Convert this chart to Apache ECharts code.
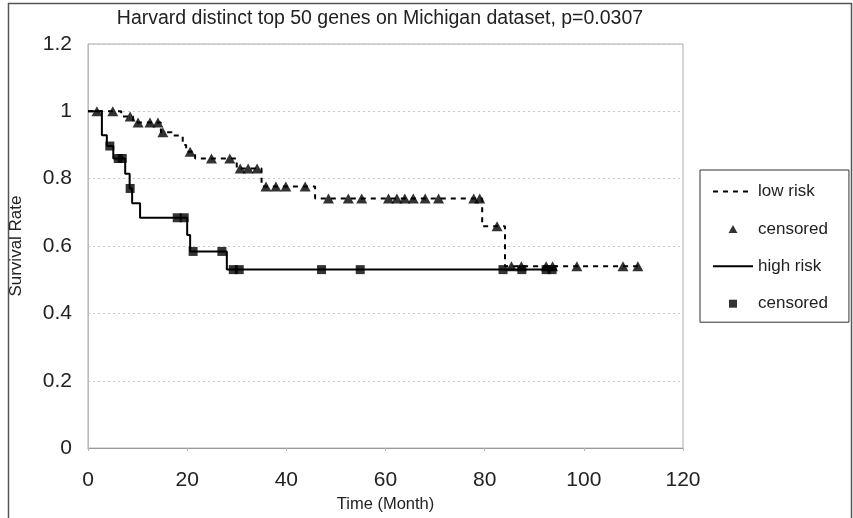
<!DOCTYPE html>
<html>
<head>
<meta charset="utf-8">
<script src="https://cdn.jsdelivr.net/npm/echarts@6/dist/echarts.min.js"></script>
<style>html,body{margin:0;padding:0;background:#fff;}#chart{width:853px;height:518px;}</style>
</head>
<body>
<div id="chart"></div>
<script>
// ---- data ----
const titleText = 'Harvard distinct top 50 genes on Michigan dataset, p=0.0307';
const xTicks = [0, 20, 40, 60, 80, 100, 120];
const yTicks = [0, 0.2, 0.4, 0.6, 0.8, 1, 1.2];

// Low risk Kaplan-Meier step curve (time of change, survival from then on)
const lowTimes = [0, 6.7, 9.1, 14.7, 16.9, 19.1, 19.8, 21.6, 30.0, 35.0, 45.8, 79.5, 84.1, 110.9];
const lowSurv  = [1, 0.985, 0.967, 0.938, 0.928, 0.900, 0.880, 0.860, 0.830, 0.777, 0.741, 0.659, 0.540, 0.540];
// Low risk censored times and survival at those times
const lowCensTimes = [1.8, 5.0, 8.5, 10.1, 12.5, 14.1, 15.1, 20.6, 24.9, 28.6, 30.7, 32.3, 34.1, 35.9, 37.9, 39.9, 43.8,
  48.5, 52.5, 55.2, 60.6, 62.3, 63.9, 65.6, 68.0, 70.7, 77.8, 79.0, 82.5, 85.4, 87.4, 92.4, 93.7, 98.6, 107.9, 110.9];
const lowCensSurv  = [1, 1, 0.985, 0.967, 0.967, 0.967, 0.938, 0.880, 0.860, 0.860, 0.830, 0.830, 0.830, 0.777, 0.777, 0.777, 0.777,
  0.741, 0.741, 0.741, 0.741, 0.741, 0.741, 0.741, 0.741, 0.741, 0.741, 0.741, 0.659, 0.540, 0.540, 0.540, 0.540, 0.540, 0.540, 0.540];

// High risk Kaplan-Meier step curve
const highTimes = [0, 2.8, 3.8, 5.1, 7.5, 8.4, 8.9, 10.5, 20.0, 20.6, 28.0, 94.5];
const highSurv  = [1, 0.929, 0.897, 0.860, 0.815, 0.771, 0.727, 0.684, 0.633, 0.584, 0.530, 0.530];
const highCensTimes = [4.4, 6.1, 6.9, 8.5, 18.0, 19.4, 21.2, 27.0, 29.3, 30.5, 47.1, 54.9, 83.7, 87.5, 92.4, 93.6];
const highCensSurv  = [0.897, 0.860, 0.860, 0.771, 0.684, 0.684, 0.584, 0.584, 0.530, 0.530, 0.530, 0.530, 0.530, 0.530, 0.530, 0.530];

const seriesNames = ['low risk', 'censored', 'high risk', 'censored '];
// ---------------------------------------

const zip = (a, b) => a.map((v, i) => [v, b[i]]);
const FONT = 'Liberation Sans, Arial, sans-serif';
const INK = '#000';
const TRI_ICON = 'path://M5,0L10,9L0,9Z';
const SQ_ICON = 'path://M0,0H10V10H0Z';

const chart = echarts.init(document.getElementById('chart'), null, {renderer: 'canvas'});
chart.setOption({
  animation: false,
  backgroundColor: '#fff',
  title: {
    text: titleText,
    left: 380, top: 9, textAlign: 'center', padding: 0,
    textStyle: {fontFamily: FONT, fontSize: 19.5, fontWeight: 'normal', color: '#222'}
  },
  graphic: [{
    type: 'rect', silent: true, z: -1,
    shape: {x: 8.5, y: 3.5, width: 843, height: 530},
    style: {fill: 'none', stroke: '#555', lineWidth: 1.5}
  }],
  grid: {
    left: 88, right: 170, top: 44, bottom: 67,
    show: true, borderColor: '#a8a8a8', borderWidth: 1, backgroundColor: 'transparent'
  },
  legend: {
    orient: 'vertical', left: 700, top: 170,
    padding: [13, 21, 10, 12],
    itemWidth: 40, itemHeight: 8, itemGap: 20.4,
    symbolKeepAspect: true,
    borderColor: '#333', borderWidth: 1, backgroundColor: '#fff',
    data: [
      {name: seriesNames[0], itemStyle: {opacity: 0}},
      {name: seriesNames[1], icon: TRI_ICON},
      {name: seriesNames[2], itemStyle: {opacity: 0}},
      {name: seriesNames[3], icon: SQ_ICON}
    ],
    formatter: n => n.trim(),
    textStyle: {fontFamily: FONT, fontSize: 17, color: '#222', lineHeight: 17},
    selectedMode: false
  },
  xAxis: {
    type: 'value', min: xTicks[0], max: xTicks[xTicks.length - 1], interval: 20,
    name: 'Time (Month)', nameLocation: 'middle', nameGap: 41,
    nameTextStyle: {fontFamily: FONT, fontSize: 16.5, color: '#222'},
    axisLine: {show: true, lineStyle: {color: '#999', width: 1}},
    axisTick: {show: true, length: 3, lineStyle: {color: '#bbb'}},
    axisLabel: {fontFamily: FONT, fontSize: 21, color: '#222', margin: 22},
    splitLine: {show: false}
  },
  yAxis: {
    type: 'value', min: yTicks[0], max: yTicks[yTicks.length - 1], interval: 0.2,
    name: 'Survival Rate', nameLocation: 'middle', nameGap: 63, nameRotate: 90,
    nameTextStyle: {fontFamily: FONT, fontSize: 17, color: '#222'},
    axisLine: {show: true, lineStyle: {color: '#bbb', width: 1}},
    axisTick: {show: false},
    axisLabel: {fontFamily: FONT, fontSize: 21, color: '#222', margin: 16,
      formatter: v => String(Math.round(v * 10) / 10)},
    splitLine: {show: true, lineStyle: {color: '#c8c8c8', type: [2, 3], width: 1}}
  },
  series: [
    {
      name: seriesNames[0], type: 'line', step: 'end', symbol: 'none',
      data: zip(lowTimes, lowSurv),
      lineStyle: {color: INK, width: 2, type: [5, 5]},
      itemStyle: {color: INK}, z: 2
    },
    {
      name: seriesNames[1], type: 'scatter', symbol: 'triangle', symbolSize: [11, 10],
      data: zip(lowCensTimes, lowCensSurv),
      itemStyle: {color: INK}, z: 4
    },
    {
      name: seriesNames[2], type: 'line', step: 'end', symbol: 'none',
      data: zip(highTimes, highSurv),
      lineStyle: {color: INK, width: 2},
      itemStyle: {color: INK}, z: 3
    },
    {
      name: seriesNames[3], type: 'scatter', symbol: 'rect', symbolSize: 9,
      data: zip(highCensTimes, highCensSurv),
      itemStyle: {color: INK}, z: 4
    }
  ]
});
</script>
</body>
</html>
